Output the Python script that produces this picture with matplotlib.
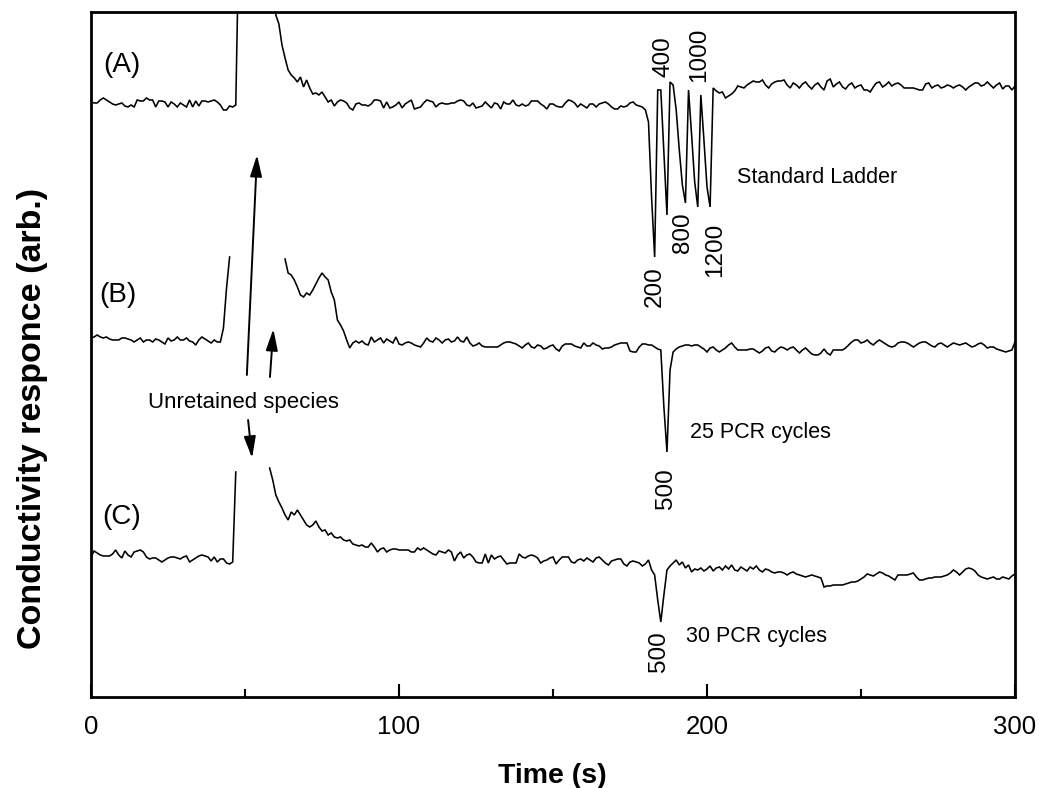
import numpy as np
import matplotlib
matplotlib.use("Agg")
import matplotlib.pyplot as plt
from matplotlib.ticker import MultipleLocator

plt.rcParams['font.family'] = ['Liberation Sans', 'DejaVu Sans']

nan = np.nan

# time axis: one reading per second, 0..300 s
time_s = np.arange(0, 301)

# (A) standard ladder trace (arb. units); values above 685 run off the top of the plot
trace_a = [
    595, 594, 594, 597, 599, 597, 595, 593, 592, 593,
    594, 591, 590, 592, 590, 597, 596, 596, 599, 597,
    597, 590, 596, 596, 595, 590, 595, 593, 590, 594,
    592, 590, 597, 590, 596, 591, 596, 596, 595, 596,
    597, 595, 592, 587, 587, 591, 590, 592, 760, 760,
    760, 760, 760, 760, 760, 760, 760, 760, 760, 760,
    682, 673, 652, 639, 627, 622, 619, 615, 620, 610,
    617, 609, 603, 604, 602, 605, 600, 595, 597, 591,
    595, 597, 596, 594, 589, 587, 593, 594, 592, 592,
    591, 593, 597, 597, 596, 589, 595, 589, 590, 592,
    595, 589, 593, 595, 597, 588, 589, 590, 594, 597,
    596, 595, 590, 593, 594, 593, 593, 594, 594, 596,
    597, 596, 592, 591, 594, 589, 590, 591, 595, 592,
    589, 594, 593, 588, 595, 593, 593, 597, 592, 591,
    593, 591, 592, 596, 596, 596, 593, 591, 588, 593,
    593, 591, 590, 590, 594, 597, 596, 594, 590, 593,
    591, 589, 593, 593, 590, 593, 594, 595, 593, 590,
    588, 588, 591, 590, 591, 594, 595, 592, 591, 590,
    587, 575, 500, 440, 607, 607, 545, 482, 615, 612,
    587, 547, 512, 494, 607, 562, 515, 490, 602, 557,
    510, 490, 609, 606, 604, 605, 599, 601, 603, 606,
    611, 610, 609, 612, 614, 616, 615, 615, 617, 612,
    609, 613, 615, 616, 616, 617, 612, 609, 614, 612,
    609, 613, 615, 611, 608, 612, 614, 610, 607, 616,
    618, 610, 613, 615, 610, 608, 612, 614, 609, 611,
    612, 607, 607, 605, 610, 614, 615, 610, 612, 615,
    611, 613, 614, 612, 609, 609, 609, 609, 608, 607,
    607, 613, 614, 609, 611, 612, 609, 610, 612, 611,
    609, 611, 612, 610, 607, 610, 612, 614, 614, 611,
    612, 615, 612, 609, 612, 614, 608, 611, 611, 607,
    611,
]

# (B) 25 PCR cycles
trace_b = [
    359, 360, 362, 360, 359, 360, 358, 357, 357, 357,
    359, 359, 358, 357, 355, 357, 359, 355, 357, 357,
    355, 358, 357, 355, 353, 359, 356, 357, 360, 357,
    357, 359, 356, 355, 352, 357, 360, 358, 356, 354,
    357, 355, 355, 369, 409, 440, nan, nan, nan, nan,
    nan, nan, nan, nan, nan, nan, nan, nan, nan, nan,
    nan, nan, nan, 438, 424, 422, 417, 410, 402, 400,
    404, 402, 407, 413, 419, 424, 420, 417, 405, 397,
    377, 372, 366, 357, 349, 354, 356, 354, 356, 353,
    352, 360, 355, 357, 359, 354, 358, 356, 354, 360,
    353, 352, 354, 355, 354, 352, 351, 350, 354, 359,
    356, 355, 359, 357, 354, 357, 358, 355, 356, 360,
    356, 355, 360, 354, 351, 352, 354, 351, 350, 350,
    350, 350, 350, 352, 354, 355, 355, 354, 353, 351,
    349, 352, 354, 350, 349, 352, 351, 348, 349, 351,
    352, 348, 346, 351, 353, 353, 353, 351, 350, 349,
    354, 351, 351, 354, 352, 351, 348, 349, 349, 350,
    352, 353, 354, 354, 354, 346, 345, 345, 350, 353,
    353, 352, 352, 350, 348, 347, 290, 245, 327, 345,
    348, 350, 351, 352, 352, 351, 352, 352, 350, 348,
    345, 349, 350, 347, 345, 347, 349, 352, 354, 350,
    347, 347, 347, 347, 348, 348, 346, 344, 346, 349,
    350, 346, 345, 348, 350, 349, 347, 349, 350, 347,
    344, 347, 349, 346, 343, 342, 342, 344, 348, 344,
    342, 347, 347, 347, 347, 349, 352, 355, 357, 357,
    354, 355, 357, 354, 352, 355, 357, 355, 353, 351,
    350, 351, 354, 355, 355, 354, 352, 350, 352, 354,
    355, 355, 353, 351, 350, 353, 354, 352, 350, 352,
    354, 353, 352, 353, 354, 352, 350, 351, 353, 354,
    352, 349, 350, 350, 348, 347, 346, 345, 346, 347,
    355,
]

# (C) 30 PCR cycles
trace_c = [
    140, 146, 144, 142, 141, 141, 141, 143, 147, 142,
    139, 146, 142, 140, 145, 146, 147, 145, 140, 138,
    139, 139, 137, 135, 137, 139, 140, 140, 139, 138,
    140, 141, 135, 137, 139, 141, 142, 141, 140, 136,
    140, 135, 138, 138, 134, 133, 135, 225, nan, nan,
    nan, nan, nan, nan, nan, nan, nan, nan, 229, 217,
    202, 195, 189, 182, 177, 185, 182, 187, 182, 177,
    172, 170, 172, 176, 170, 166, 167, 162, 164, 160,
    159, 160, 157, 156, 157, 153, 152, 151, 152, 150,
    150, 154, 150, 145, 148, 149, 145, 147, 148, 148,
    147, 147, 147, 147, 145, 145, 149, 147, 149, 147,
    145, 143, 142, 146, 145, 144, 147, 145, 136, 142,
    145, 139, 142, 143, 140, 135, 134, 134, 143, 134,
    142, 138, 140, 141, 137, 133, 134, 134, 134, 143,
    140, 139, 141, 142, 141, 139, 134, 136, 137, 139,
    140, 133, 137, 140, 140, 140, 135, 134, 137, 138,
    136, 139, 137, 135, 139, 140, 137, 134, 132, 136,
    137, 138, 138, 133, 131, 135, 136, 135, 134, 131,
    133, 137, 127, 122, 97, 75, 102, 127, 131, 134,
    137, 132, 135, 129, 132, 125, 128, 127, 129, 126,
    128, 131, 126, 129, 130, 127, 131, 128, 132, 127,
    126, 130, 128, 126, 130, 128, 131, 127, 125, 128,
    127, 125, 124, 125, 125, 124, 122, 124, 125, 123,
    122, 121, 120, 121, 122, 121, 120, 119, 110, 111,
    111, 112, 112, 112, 112, 113, 114, 115, 115, 116,
    118, 120, 123, 122, 121, 123, 125, 124, 122, 121,
    119, 117, 122, 122, 122, 122, 123, 124, 120, 117,
    117, 118, 119, 119, 120, 120, 120, 121, 122, 124,
    127, 125, 122, 125, 128, 129, 128, 126, 122, 120,
    119, 118, 119, 120, 118, 118, 120, 119, 118, 121,
    123,
]

trace_labels = ["(A)", "(B)", "(C)"]
ladder_sizes = ["200", "400", "800", "1000", "1200"]
sample_sizes = ["500", "500"]
annotations = ["Standard Ladder", "25 PCR cycles", "30 PCR cycles"]
x_ticks = [0, 100, 200, 300]

fig = plt.figure(figsize=(10.39, 7.88), dpi=100)
ax = fig.add_axes([0.0876, 0.1155, 0.8893, 0.8693])

for tr in (trace_a, trace_b, trace_c):
    ax.plot(time_s, np.array(tr, dtype=float), color='black', lw=1.15,
            solid_joinstyle='miter')

ax.set_xlim(0, 300)
ax.set_ylim(0, 685)

# panel labels
for lab, (x, y) in zip(trace_labels, [(9.9, 632), (8.8, 402), (10.1, 180)]):
    ax.text(x, y, lab, fontsize=20, ha='center', va='center')

# ladder size labels (rotated)
ladder_pos = [(183.1, 410), (186.0, 640), (192.2, 464), (197.4, 642), (202.6, 447)]
for lab, (x, y) in zip(ladder_sizes, ladder_pos):
    ax.text(x, y, lab, fontsize=17.5, rotation=90, ha='center', va='center')
for lab, (x, y) in zip(sample_sizes, [(186.7, 208), (184.4, 45)]):
    ax.text(x, y, lab, fontsize=17.5, rotation=90, ha='center', va='center')

for lab, (x, y) in zip(annotations, [(209.7, 519), (194.5, 264), (193.2, 60)]):
    ax.text(x, y, lab, fontsize=15.5, ha='left', va='center')

ax.text(49.4, 294, "Unretained species", fontsize=16, ha='center', va='center')

arrow_kw = dict(arrowstyle='-|>,head_length=0.65,head_width=0.18', color='black',
                lw=1.4, shrinkA=0, shrinkB=0, mutation_scale=20)
for (x0, y0), (x1, y1) in [((50.6, 322), (53.9, 542)),
                           ((58.1, 320), (59.2, 368)),
                           ((51.0, 277), (52.3, 239))]:
    ax.annotate("", xy=(x1, y1), xytext=(x0, y0), arrowprops=arrow_kw)

# axes styling
for sp in ax.spines.values():
    sp.set_linewidth(2.0)
ax.set_xticks(x_ticks)
ax.set_xticklabels([str(v) for v in x_ticks])
ax.xaxis.set_minor_locator(MultipleLocator(50))
ax.tick_params(axis='x', which='major', direction='in', length=9.5, width=1.5,
               labelsize=18.5, pad=13)
ax.tick_params(axis='x', which='minor', direction='in', length=6, width=1.5)
ax.set_yticks([])

ax.set_xlabel("Time (s)", fontsize=20.5, fontweight='bold', va='center')
ax.xaxis.set_label_coords(0.499, -0.115)
ax.set_ylabel("Conductivity responce (arb.)", fontsize=24.5, fontweight='bold', va='center')
ax.yaxis.set_label_coords(-0.063, 0.406)

fig.savefig("out.png", dpi=100)
